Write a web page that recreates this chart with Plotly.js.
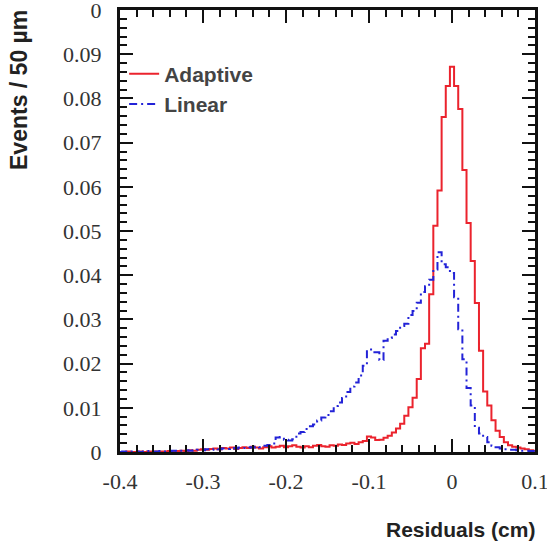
<!DOCTYPE html>
<html>
<head>
<meta charset="utf-8">
<script src="https://cdn.plot.ly/plotly-3.0.1.min.js"></script>
<style>html,body{margin:0;padding:0;background:#fff;}#chart{width:547px;height:554px;}</style>
</head>
<body>
<div id="chart"></div>
<script>
// Histogram bins: 50 um = 0.005 cm, centres from -0.4 to 0.1 cm
const binFirstCentre = -0.4;
const binWidth = 0.005;

// Adaptive (red, solid)
const adaptive = [
  0, 0, 0.0001, 0, 0, 0.0001, 0, 0.0001, 0, 0.0001,
  0.0001, 0.0001, 0.0002, 0.0001, 0.0002, 0.0003, 0.0002, 0.0004, 0.0003, 0.0005,
  0.0006, 0.0005, 0.0007, 0.0008, 0.0006, 0.0009, 0.0008, 0.0010, 0.0007, 0.0009,
  0.0011, 0.0009, 0.0012, 0.0010, 0.0008, 0.0011, 0.0013, 0.0010, 0.0012, 0.0014,
  0.0011, 0.0013, 0.0015, 0.0012, 0.0010, 0.0013, 0.0011, 0.0014, 0.0016, 0.0013,
  0.0012, 0.0015, 0.0014, 0.0017, 0.0016, 0.0019, 0.0021, 0.0018, 0.0022, 0.0025,
  0.0035, 0.0033, 0.0027, 0.0028, 0.0032, 0.0037, 0.0044, 0.0053, 0.0064, 0.0082,
  0.0101, 0.0123, 0.0165, 0.0235, 0.0245, 0.0357, 0.0512, 0.0592, 0.0758, 0.0828,
  0.0872, 0.0828, 0.0776, 0.0638, 0.0518, 0.0432, 0.0337, 0.0229, 0.0137, 0.0105, 0.0072,
  0.0048, 0.0034, 0.0022, 0.0015, 0.0012, 0.0010, 0.0008, 0.0006, 0.0004, 0.0003
];

// Linear (blue, dash-dot)
const linear = [
  0, 0.0001, 0, 0.0001, 0.0001, 0, 0.0001, 0.0002, 0.0001, 0.0001,
  0.0002, 0.0001, 0.0002, 0.0003, 0.0002, 0.0003, 0.0004, 0.0003, 0.0004, 0.0005,
  0.0004, 0.0006, 0.0005, 0.0007, 0.0006, 0.0008, 0.0007, 0.0009, 0.0008, 0.0010,
  0.0009, 0.0011, 0.0010, 0.0012, 0.0011, 0.0014, 0.0016, 0.0019, 0.0033, 0.0034,
  0.0028, 0.0026, 0.0029, 0.0042, 0.0045, 0.0052, 0.0058, 0.0062, 0.0071, 0.0078,
  0.0084, 0.0092, 0.0104, 0.0112, 0.0122, 0.0136, 0.0148, 0.0157, 0.0173, 0.0195,
  0.0232, 0.0226, 0.0226, 0.0208, 0.0252, 0.0258, 0.0266, 0.0274, 0.0285, 0.0290,
  0.0310, 0.0319, 0.0338, 0.0362, 0.0375, 0.0390, 0.0413, 0.0452, 0.0425, 0.0418,
  0.0405, 0.0350, 0.0278, 0.0210, 0.0145, 0.0105, 0.0055, 0.0042, 0.0034, 0.0022, 0.0014,
  0.0011, 0.0008, 0.0006, 0.0005, 0.0005, 0.0004, 0.0003, 0.0003, 0.0002, 0.0002
];

const seriesNames = ["Adaptive", "Linear"];
// Tick labels as printed on the reference (hyphen minus signs, top y label reads "0")
const xTickLabels = {"\u22120.4": "-0.4", "\u22120.3": "-0.3", "\u22120.2": "-0.2", "\u22120.1": "-0.1"};
const yTickLabels = {"0.1": "0", "0.1\u2002": "0\u2002"};

const binCentres = adaptive.map((_, i) => +(binFirstCentre + i * binWidth).toFixed(4));

const tickFont = {family: "Liberation Serif, Times New Roman, serif", size: 22, color: "#333"};
const titleFont = {family: "Liberation Sans, Arial, sans-serif", size: 21, weight: "bold", color: "#222"};

const traces = [
  {
    x: binCentres, y: adaptive, name: seriesNames[0], type: "scatter", mode: "lines",
    line: {shape: "hvh", color: "rgb(235,35,45)", width: 2}
  },
  {
    x: binCentres, y: linear, name: seriesNames[1], type: "scatter", mode: "lines",
    line: {shape: "hvh", color: "rgb(35,35,215)", width: 2, dash: "8px,4px,2px,4px"}
  }
];

const layout = {
  width: 547, height: 554,
  margin: {l: 120, r: 12, t: 10, b: 102},
  paper_bgcolor: "#fff", plot_bgcolor: "#fff",
  showlegend: true,
  legend: {
    x: 0.01, y: 0.9014, xanchor: "left", yanchor: "top",
    bgcolor: "rgba(0,0,0,0)", borderwidth: 0,
    font: {family: "Liberation Sans, Arial, sans-serif", size: 21, weight: "bold"},
    itemwidth: 30, tracegroupgap: 0
  },
  xaxis: {
    range: [-0.4, 0.10002], tickmode: "linear", tick0: 0, dtick: 0.1, labelalias: xTickLabels,
    ticks: "inside", ticklen: 13, tickwidth: 2, tickcolor: "#111",
    showline: true, linecolor: "#111", linewidth: 3, mirror: "allticks",
    showgrid: false, zeroline: false, tickfont: tickFont, ticklabelstandoff: 8,
    ticklabeloverflow: "allow",
    minor: {dtick: 0.02, ticks: "inside", ticklen: 7, tickwidth: 2, tickcolor: "#111"}
  },
  yaxis: {
    range: [0, 0.10002], tickmode: "linear", tick0: 0, dtick: 0.01, labelalias: yTickLabels,
    ticks: "inside", ticklen: 13, tickwidth: 2, tickcolor: "#111",
    showline: true, linecolor: "#111", linewidth: 3, mirror: "allticks",
    showgrid: false, zeroline: false, tickfont: tickFont, ticksuffix: "\u2002",
    ticklabeloverflow: "allow",
    minor: {dtick: 0.002, ticks: "inside", ticklen: 7, tickwidth: 2, tickcolor: "#111"}
  },
  annotations: [
    {
      text: "Residuals (cm)", xref: "paper", yref: "paper", x: 1, y: 0, xanchor: "right", yanchor: "middle",
      yshift: -77, xshift: 2, showarrow: false, font: titleFont
    },
    {
      text: "Events / 50 µm", xref: "paper", yref: "paper", x: 0, y: 1, xanchor: "center", yanchor: "top",
      xshift: -101, yshift: 2, textangle: -90, showarrow: false,
      font: {family: "Liberation Sans, Arial, sans-serif", size: 23, weight: "bold", color: "#222"}
    }
  ]
};

Plotly.newPlot("chart", traces, layout, {displayModeBar: false, staticPlot: true});
</script>
</body>
</html>
